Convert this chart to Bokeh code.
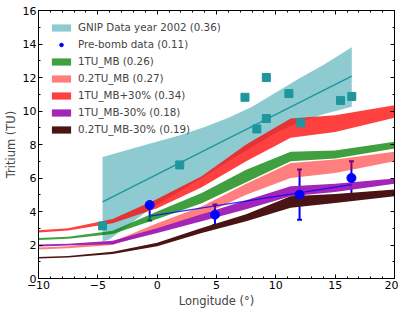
from bokeh.plotting import figure
from bokeh.models import (ColumnDataSource, Whisker, TeeHead, LinearAxis,
                          SingleIntervalTicker, Legend, LegendItem,
                          CustomLabelingPolicy)
from bokeh.embed import file_html
from bokeh.resources import INLINE

# ---------------- data ----------------
model_lon = [-10, -7.5, -3.75, 0, 3.75, 7.5, 11.25, 15, 20]
red_lo = [2.74, 2.86, 3.30, 4.20, 5.45, 7.00, 8.40, 8.75, 9.60]
red_hi = [2.88, 3.00, 3.55, 4.75, 6.10, 8.00, 9.55, 9.75, 10.35]
green_lo = [2.30, 2.38, 2.65, 3.55, 4.50, 5.75, 7.00, 7.16, 7.76]
green_hi = [2.42, 2.50, 2.85, 4.00, 5.10, 6.50, 7.56, 7.64, 8.16]
salmon_lo = [1.73, 1.80, 2.00, 2.92, 3.78, 5.00, 6.00, 6.30, 7.00]
salmon_hi = [1.85, 1.92, 2.20, 3.30, 4.30, 5.65, 6.90, 7.10, 7.56]
purple_lo = [1.91, 1.97, 2.05, 2.72, 3.42, 4.14, 4.91, 5.17, 5.65]
purple_hi = [2.03, 2.08, 2.25, 3.00, 3.84, 4.67, 5.51, 5.65, 5.97]
dark_lo = [1.19, 1.25, 1.47, 1.93, 2.72, 3.42, 4.22, 4.51, 4.91]
dark_hi = [1.29, 1.35, 1.60, 2.13, 3.02, 3.84, 4.91, 5.05, 5.31]

gnip_lon = [-4.6, 1.9, 7.4, 8.4, 9.2, 9.2, 11.1, 12.1, 15.45, 16.4]
gnip_tu = [3.14, 6.78, 10.82, 8.93, 12.0, 9.55, 11.04, 9.29, 10.63, 10.87]
gnip_fit_lon = [-4.6, 16.4]
gnip_fit_tu = [4.57, 12.08]
band_lon = [-4.6, -4.0, -2.0, -0.5, 2.0, 4.0, 6.0, 8.0, 10.0, 12.0, 14.0, 16.4]
band_hi = [7.26, 7.38, 7.77, 8.07, 8.56, 9.05, 9.60, 10.25, 11.10, 11.95, 12.75, 13.81]
band_lo = [2.20, 2.35, 3.40, 4.20, 5.25, 6.10, 7.00, 7.85, 8.70, 9.35, 9.80, 10.25]

pb_lon = [-0.63, 4.87, 12.0, 16.37]
pb_tu = [4.39, 3.81, 5.01, 6.0]
pb_err = [0.92, 0.61, 1.5, 1.0]
pb_fit_lon = [-0.63, 16.37]
pb_fit_tu = [3.72, 5.60]

x_ticks_interval = 5
y_ticks_interval = 2

FONT = "DejaVu Sans"

p = figure(frame_width=356, frame_height=268, x_range=(-10, 20), y_range=(0, 16),
           output_backend="svg", toolbar_location=None,
           min_border_left=2, min_border_right=4, min_border_top=10,
           min_border_bottom=2)
p.xgrid.visible = False
p.ygrid.visible = False
p.outline_line_color = "black"
p.outline_line_width = 1
p.background_fill_color = "white"

# GNIP band
r_band = p.varea(x=band_lon, y1=band_lo, y2=band_hi, fill_color="#8ecbd0", fill_alpha=1.0)

# model bands
r_red = p.varea(x=model_lon, y1=red_lo, y2=red_hi, fill_color="#ff0000", fill_alpha=0.75)
r_green = p.varea(x=model_lon, y1=green_lo, y2=green_hi, fill_color="#008000", fill_alpha=0.75)
r_salmon = p.varea(x=model_lon, y1=salmon_lo, y2=salmon_hi, fill_color="#ff0000", fill_alpha=0.5)
r_purple = p.varea(x=model_lon, y1=purple_lo, y2=purple_hi, fill_color="#9e1ab5", fill_alpha=0.95)
r_dark = p.varea(x=model_lon, y1=dark_lo, y2=dark_hi, fill_color="#4a1414", fill_alpha=1.0)

# GNIP fit and points
p.line(gnip_fit_lon, gnip_fit_tu, line_color="#1f969e", line_width=1.5)
p.scatter(gnip_lon, gnip_tu, marker="square", size=8, fill_color="#1f969e",
          line_color="#1f969e")

# pre-bomb
p.line(pb_fit_lon, pb_fit_tu, line_color="#0000ff", line_width=1.3, line_alpha=0.8)
src = ColumnDataSource(dict(x=pb_lon, y=pb_tu,
                            lo=[v - e for v, e in zip(pb_tu, pb_err)],
                            hi=[v + e for v, e in zip(pb_tu, pb_err)]))
wh = Whisker(base="x", lower="lo", upper="hi", source=src, dimension="height",
             line_color="#0000ff", line_width=2,
             upper_head=TeeHead(size=5, line_color="#0000ff", line_width=2),
             lower_head=TeeHead(size=5, line_color="#0000ff", line_width=2))
p.add_layout(wh)
r_pb = p.scatter("x", "y", source=src, marker="circle", size=9,
                 fill_color="#0000ff", line_color="#0000ff")

# axes
for ax in (p.xaxis[0], p.yaxis[0]):
    ax.major_tick_in = 4
    ax.major_tick_out = 0
    ax.minor_tick_in = 2
    ax.minor_tick_out = 0
    ax.major_label_text_font = FONT
    ax.major_label_text_font_size = "11px"
    ax.major_label_text_color = "black"
    ax.axis_label_text_font = FONT
    ax.axis_label_text_font_size = "11.5px"
    ax.axis_label_text_font_style = "normal"
    ax.axis_line_color = "black"
    ax.major_label_standoff = 2
    ax.axis_label_standoff = 2

p.xaxis[0].ticker = SingleIntervalTicker(interval=x_ticks_interval, num_minor_ticks=5)
p.yaxis[0].ticker = SingleIntervalTicker(interval=y_ticks_interval, num_minor_ticks=2)
p.xaxis[0].axis_label = "Longitude (°)"
p.yaxis[0].axis_label = "Tritium (TU)"

no_labels = CustomLabelingPolicy(code="for (const i of Array.from(indices)) { indices.unset(i) } return indices")
top = LinearAxis(ticker=SingleIntervalTicker(interval=x_ticks_interval, num_minor_ticks=5))
right = LinearAxis(ticker=SingleIntervalTicker(interval=y_ticks_interval, num_minor_ticks=2))
for ax in (top, right):
    ax.major_tick_in = 4
    ax.major_tick_out = 0
    ax.minor_tick_in = 2
    ax.minor_tick_out = 0
    ax.major_label_text_font_size = "1px"
    ax.major_label_text_color = None
    ax.major_label_policy = no_labels
    ax.major_label_standoff = 0
    ax.axis_line_color = "black"
p.add_layout(top, "above")
p.add_layout(right, "right")

legend = Legend(items=[
    LegendItem(label="GNIP Data year 2002 (0.36)", renderers=[r_band]),
    LegendItem(label="Pre-bomb data (0.11)", renderers=[r_pb]),
    LegendItem(label="1TU_MB (0.26)", renderers=[r_green]),
    LegendItem(label="0.2TU_MB (0.27)", renderers=[r_salmon]),
    LegendItem(label="1TU_MB+30% (0.34)", renderers=[r_red]),
    LegendItem(label="1TU_MB-30% (0.18)", renderers=[r_purple]),
    LegendItem(label="0.2TU_MB-30% (0.19)", renderers=[r_dark]),
], location="top_left")
legend.background_fill_alpha = 0
legend.border_line_alpha = 0
legend.label_text_font = FONT
legend.label_text_font_size = "10.3px"
legend.glyph_width = 24
legend.glyph_height = 9
legend.label_height = 11
legend.label_standoff = 5
legend.spacing = 5
legend.margin = 5
legend.padding = 6
p.add_layout(legend)

open("out.html", "w").write(file_html(p, INLINE))
